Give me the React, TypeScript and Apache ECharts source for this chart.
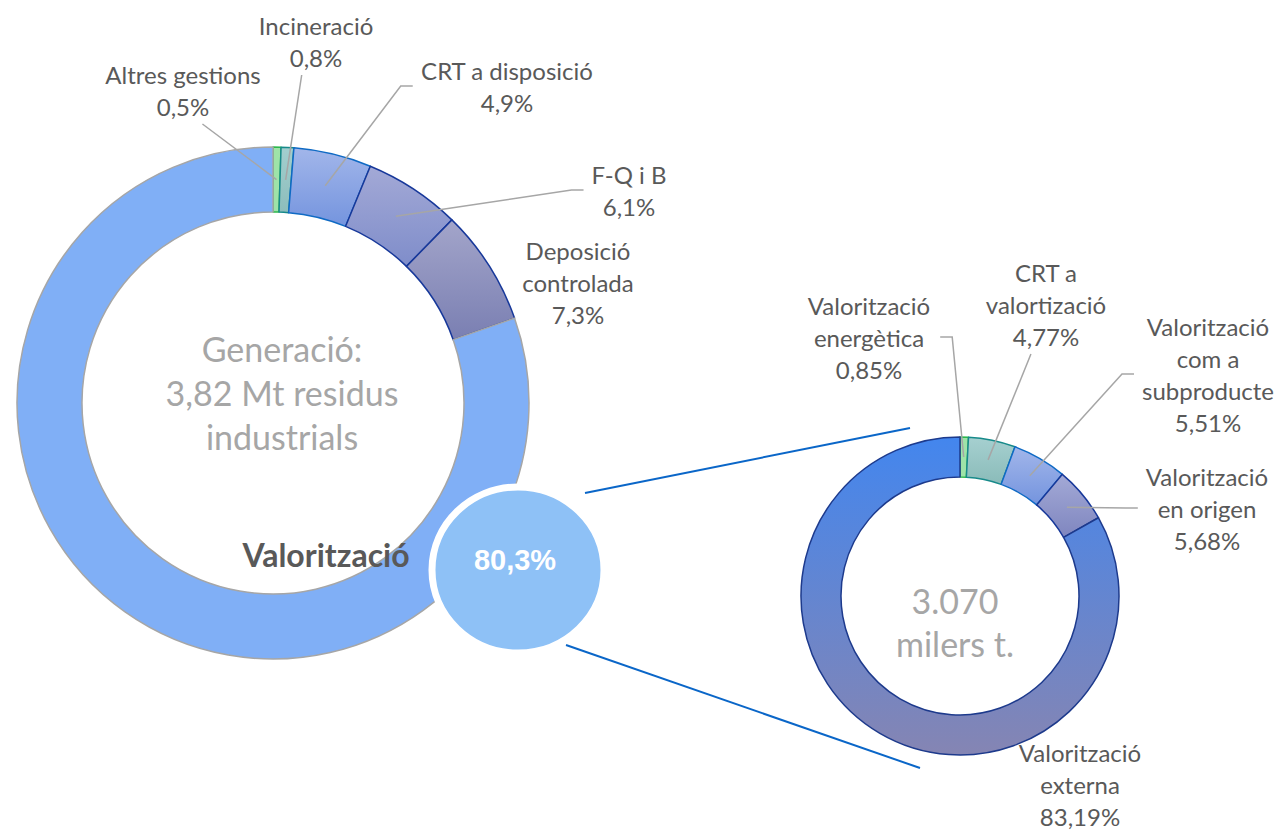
import React, { useEffect, useRef } from "react";
import * as echarts from "echarts";

// ---- data ----
const leftNames = ["Altres gestions", "Incineració", "CRT a disposició", "F-Q i B", "Deposició\ncontrolada", "Valorització"];
const leftValues = [0.5, 0.8, 4.9, 6.1, 7.3, 80.3];
const leftLabels = ["0,5%", "0,8%", "4,9%", "6,1%", "7,3%", "80,3%"];

const rightNames = ["Valorització\nenergètica", "CRT a\nvalortizació", "Valorització\ncom a\nsubproducte", "Valorització\nen origen", "Valorització\nexterna"];
const rightValues = [0.85, 4.77, 5.51, 5.68, 83.19];
const rightLabels = ["0,85%", "4,77%", "5,51%", "5,68%", "83,19%"];

const centerLeftText = "Generació:\n3,82 Mt residus\nindustrials";
const centerRightText = "3.070\nmilers t.";
const highlightName = "Valorització";

// ---- layout ----
const FONT = "Lato, 'Noto Sans', sans-serif";
const LABEL_SIZE = 24;
const LABEL_LH = 32;
const L = { cx: 273, cy: 403, r0: 191, r1: 256 };
const R = { cx: 960, cy: 596, r0: 119, r1: 159 };
// label anchor positions (centre of text block) and leader line side
const leftLabelPos: [number, number, string][] = [
  [183, 90, "bottom"],
  [316, 41, "bottom"],
  [507, 86, "left"],
  [629, 190, "left"],
  [578, 282, "none"],
  [0, 0, "hide"],
];
const rightLabelPos: [number, number, string][] = [
  [869, 337, "right"],
  [1046, 304, "bottom"],
  [1208, 374, "left"],
  [1207, 508, "left"],
  [1080, 784, "none"],
];

const grad = (a: string, b: string) =>
  new echarts.graphic.LinearGradient(0, 0, 0, 1, [
    { offset: 0, color: a },
    { offset: 1, color: b },
  ]);

const leftStyles = [
  { color: "#9EE3A8", borderColor: "#2DB84C", borderWidth: 1.5 },
  { color: grad("#A3CFCF", "#8CBDBB"), borderColor: "#178A8A", borderWidth: 1.5 },
  { color: grad("#A2B6EA", "#7494DE"), borderColor: "#0F6AC4", borderWidth: 1.5 },
  { color: grad("#A3A9D6", "#7F8DCA"), borderColor: "#17389A", borderWidth: 1.5 },
  { color: grad("#A3A5CA", "#7A7FB2"), borderColor: "#17389A", borderWidth: 1.5 },
  { color: "#80AFF6", borderColor: "#A6A6A6", borderWidth: 1.5 },
];
const rightStyles = [
  { color: "#9EE3A8", borderColor: "#2DB84C", borderWidth: 1.5 },
  { color: grad("#A6D0D0", "#8ABBB9"), borderColor: "#178A8A", borderWidth: 1.5 },
  { color: grad("#A2B6EA", "#7494DE"), borderColor: "#0F6AC4", borderWidth: 1.5 },
  { color: grad("#A3A9D6", "#7F86BF"), borderColor: "#17389A", borderWidth: 1.5 },
  { color: grad("#4386EE", "#8585B3"), borderColor: "#1D3A8C", borderWidth: 1.5 },
];

function midPoint(values: number[], idx: number, g: { cx: number; cy: number; r0: number; r1: number }) {
  const total = values.reduce((s, v) => s + v, 0);
  let cum = 0;
  for (let i = 0; i < idx; i++) cum += values[i];
  const frac = (cum + values[idx] / 2) / total;
  const ang = ((90 - 360 * frac) * Math.PI) / 180;
  const r = (g.r0 + g.r1) / 2;
  return [g.cx + r * Math.cos(ang), g.cy - r * Math.sin(ang)];
}

function measure(text: string) {
  try {
    const t = new (echarts.graphic as any).Text({
      style: { text, font: `${LABEL_SIZE}px ${FONT}`, lineHeight: LABEL_LH },
    });
    const r = t.getBoundingRect();
    return { w: r.width, h: r.height };
  } catch (e) {
    const lines = text.split("\n");
    return { w: Math.max(...lines.map((l) => l.length)) * LABEL_SIZE * 0.5, h: lines.length * LABEL_LH };
  }
}

function leaderLines(values: number[], names: string[], labels: string[], pos: [number, number, string][], g: any) {
  const out: any[] = [];
  values.forEach((_, i) => {
    const [x, y, side] = pos[i];
    if (side === "none" || side === "hide") return;
    const { w, h } = measure(`${names[i]}\n${labels[i]}`);
    const s = midPoint(values, i, g);
    let pts: number[][];
    if (side === "bottom") {
      const ex = Math.min(Math.max(s[0], x - w / 8), x + w / 8);
      pts = [s, [ex, y + h / 2 + 2]];
    } else if (side === "left") {
      const lx = x - w / 2;
      pts = [s, [lx - 20, y], [lx - 8, y]];
    } else {
      const rx = x + w / 2;
      pts = [s, [rx + 22, y], [rx + 10, y]];
    }
    out.push({
      type: "polyline",
      shape: { points: pts },
      style: { stroke: "#A6A6A6", lineWidth: 1.5, fill: "none" },
      z: 20,
    });
  });
  return out;
}

export default function App() {
  const ref = useRef<HTMLDivElement>(null);
  useEffect(() => {
    if (!ref.current) return;
    const chart = echarts.init(ref.current, undefined, { renderer: "svg" });
    const labelStyle = {
      show: true,
      position: "outside",
      color: "#595959",
      fontFamily: FONT,
      fontSize: LABEL_SIZE,
      lineHeight: LABEL_LH,
      align: "center",
    };
    const leftData = leftValues.map((v, i) => ({
      name: leftNames[i],
      value: v,
      itemStyle: leftStyles[i],
      label: {
        ...labelStyle,
        show: leftLabelPos[i][2] !== "hide",
        formatter: `${leftNames[i]}\n${leftLabels[i]}`,
      },
    }));
    const rightData = rightValues.map((v, i) => ({
      name: rightNames[i],
      value: v,
      itemStyle: rightStyles[i],
      label: { ...labelStyle, formatter: `${rightNames[i]}\n${rightLabels[i]}` },
    }));
    const makeLayout = (pos: [number, number, string][]) => (params: any) => {
      const [x, y] = pos[params.dataIndex];
      return { x, y, align: "center", verticalAlign: "middle", hideOverlap: false };
    };
    const hiIdx = leftNames.indexOf(highlightName);
    chart.setOption({
      animation: false,
      backgroundColor: "#ffffff",
      graphic: [
        { type: "line", shape: { x1: 585, y1: 493, x2: 910, y2: 428 }, style: { stroke: "#0A66C8", lineWidth: 2 }, z: 1 },
        { type: "line", shape: { x1: 566, y1: 645, x2: 920, y2: 768 }, style: { stroke: "#0A66C8", lineWidth: 2 }, z: 1 },
        {
          type: "text",
          x: 282,
          y: 392,
          style: { text: centerLeftText, fill: "#A6A6A6", font: `34px ${FONT}`, lineHeight: 44, align: "center", verticalAlign: "middle" },
          z: 5,
        },
        {
          type: "text",
          x: 955,
          y: 622,
          style: { text: centerRightText, fill: "#A6A6A6", font: `34px ${FONT}`, lineHeight: 43, align: "center", verticalAlign: "middle" },
          z: 5,
        },
        {
          type: "text",
          x: 326,
          y: 554,
          style: { text: leftNames[hiIdx], fill: "#595959", font: `bold 32px ${FONT}`, align: "center", verticalAlign: "middle" },
          z: 5,
        },
        ...leaderLines(leftValues, leftNames, leftLabels, leftLabelPos, L),
        ...leaderLines(rightValues, rightNames, rightLabels, rightLabelPos, R),
        {
          type: "ellipse",
          shape: { cx: 518, cy: 570, rx: 86, ry: 83 },
          style: { fill: "#8EC1F6", stroke: "#ffffff", lineWidth: 7 },
          z: 30,
        },
        {
          type: "text",
          x: 515,
          y: 560,
          style: { text: leftLabels[hiIdx], fill: "#ffffff", font: `bold 29px 'Liberation Sans', Arial, sans-serif`, align: "center", verticalAlign: "middle" },
          z: 31,
        },
      ],
      series: [
        {
          type: "pie",
          center: [L.cx, L.cy],
          radius: [L.r0, L.r1],
          startAngle: 90,
          clockwise: true,
          avoidLabelOverlap: false,
          labelLine: { show: false },
          data: leftData,
          labelLayout: makeLayout(leftLabelPos),
          emphasis: { disabled: true },
          z: 2,
        },
        {
          type: "pie",
          center: [R.cx, R.cy],
          radius: [R.r0, R.r1],
          startAngle: 90,
          clockwise: true,
          avoidLabelOverlap: false,
          labelLine: { show: false },
          data: rightData,
          labelLayout: makeLayout(rightLabelPos),
          emphasis: { disabled: true },
          z: 2,
        },
      ],
    });
    return () => chart.dispose();
  }, []);
  return <div ref={ref} style={{ position: "fixed", left: 0, top: 0, width: 1282, height: 830 }} />;
}
